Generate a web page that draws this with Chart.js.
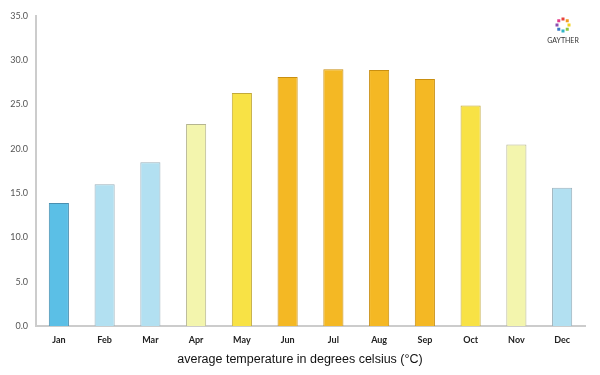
<!DOCTYPE html>
<html>
<head>
<meta charset="utf-8">
<script src="https://cdn.jsdelivr.net/npm/chart.js@4"></script>
<style>
  html, body { margin: 0; padding: 0; background: #fff; }
  #wrap { width: 600px; height: 375px; }
</style>
</head>
<body>
<div id="wrap"><canvas id="temps" width="600" height="375"></canvas></div>
<script>
// monthly averages
const months = ["Jan", "Feb", "Mar", "Apr", "May", "Jun", "Jul", "Aug", "Sep", "Oct", "Nov", "Dec"];
const avgTemp = [13.9, 16.0, 18.5, 22.8, 26.3, 28.1, 29.0, 28.9, 27.9, 24.9, 20.5, 15.6];
const yTicks = [0, 5, 10, 15, 20, 25, 30, 35];

// colour bands by temperature
const fillColours = ["#5bbfe6", "#b2e0f1", "#b2e0f1", "#f3f5ad", "#f8e245", "#f4b824",
                     "#f4b824", "#f4b824", "#f4b824", "#f8e245", "#f3f5ad", "#b2e0f1"];
const edgeColours = ["#4a8fb0", "#9ab0bb", "#9ab0bb", "#b5b590", "#c2a93a", "#c98f10",
                     "#c98f10", "#c98f10", "#c98f10", "#c2a93a", "#b5b590", "#9ab0bb"];

// little logo in the corner
const logoColours = ["#e8423b", "#f39a1f", "#f4d21e", "#8cc63f", "#2fb4c6", "#3b7bc8", "#8b4fb0", "#e23b8a"];
const logoPlugin = {
    id: "logo",
    afterDraw(chart) {
        const ctx = chart.ctx;
        const cx = 563, cy = 25;
        ctx.save();
        for (let i = 0; i < logoColours.length; i++) {
            const a = i / logoColours.length * Math.PI * 2 - Math.PI / 2;
            ctx.fillStyle = logoColours[i];
            ctx.fillRect(cx + Math.cos(a) * 6 - 1.5, cy + Math.sin(a) * 6 - 1.5, 3, 3);
        }
        ctx.fillStyle = "#333";
        ctx.font = "7px Lato";
        ctx.textAlign = "center";
        ctx.fillText("GAYTHER", cx, 43);
        ctx.restore();
    }
};

const config = {
    type: "bar",
    data: {
        labels: months,
        datasets: [{
            data: avgTemp,
            backgroundColor: fillColours,
            borderColor: edgeColours,
            borderWidth: 1,
            barPercentage: 0.44,
            categoryPercentage: 1.0
        }]
    },
    options: {
        responsive: false,
        animation: false,
        layout: { padding: { top: 16, right: 0, left: 0, bottom: 0 } },
        plugins: {
            legend: { display: false },
            tooltip: { enabled: false },
            title: {
                display: true,
                position: "bottom",
                text: "average temperature in degrees celsius (°C)",
                color: "#111",
                font: { family: "Liberation Sans", size: 12.5, weight: "normal" },
                padding: { top: 5, bottom: 8 }
            }
        },
        scales: {
            x: {
                grid: { display: false },
                border: { display: true, color: "#cccccc", width: 2 },
                ticks: {
                    color: "#222",
                    font: { family: "Lato", size: 9, weight: "bold" },
                    padding: 1
                },
                afterFit(scale) { scale.height = 21; }
            },
            y: {
                min: 0,
                max: 35,
                afterBuildTicks(scale) { scale.ticks = yTicks.map(v => ({ value: v })); },
                grid: { display: false },
                border: { display: true, color: "#cccccc", width: 2 },
                ticks: {
                    color: "#555",
                    font: { family: "Lato", size: 9 },
                    padding: 0,
                    callback: v => v.toFixed(1)
                },
                afterFit(scale) { scale.width = 36; }
            },
            // empty right gutter so the bottom title stays centred on the page
            gutter: {
                type: "linear",
                position: "right",
                grid: { display: false },
                border: { display: false },
                ticks: { display: false },
                afterFit(scale) { scale.width = 15; }
            }
        }
    },
    plugins: [logoPlugin]
};

new Chart(document.getElementById("temps"), config);
</script>
</body>
</html>
